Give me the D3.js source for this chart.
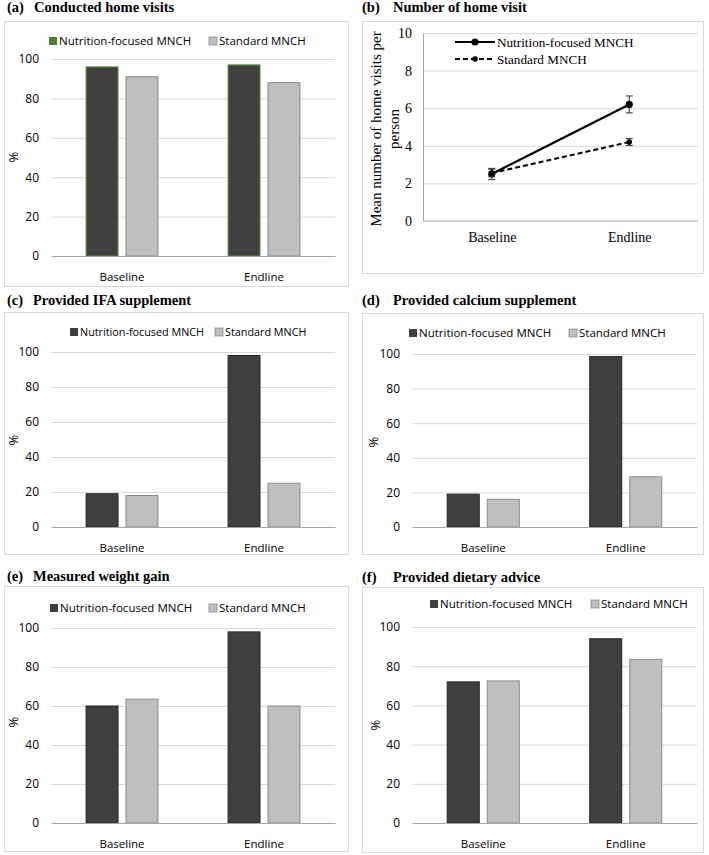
<!DOCTYPE html>
<html>
<head>
<meta charset="utf-8">
<script src="https://cdn.jsdelivr.net/npm/d3@7"></script>
<style>
  body { margin: 0; background: #fff; }
  svg { display: block; }
</style>
</head>
<body>
<div id="chart"></div>
<script>
// data
var phases = ["Baseline", "Endline"];
var groups = ["Nutrition-focused MNCH", "Standard MNCH"];
var pctTicks = [0, 20, 40, 60, 80, 100];
var visitTicks = [0, 2, 4, 6, 8, 10];

var conductedNutrition = [96, 97];
var conductedStandard = [91, 88];
var ifaNutrition = [19, 98];
var ifaStandard = [18, 25];
var calciumNutrition = [19, 98.5];
var calciumStandard = [16, 29];
var weightNutrition = [60, 98];
var weightStandard = [63.5, 60];
var dietNutrition = [72, 94];
var dietStandard = [72.5, 83.5];

var visitsNutrition = [2.5, 6.2];
var visitsNutritionErr = [0.3, 0.45];
var visitsStandard = [2.55, 4.2];
var visitsStandardErr = [0.2, 0.18];

var W = 709, H = 855;
var svg = d3.select("#chart").append("svg")
  .attr("width", W)
  .attr("height", H);

var sansFont = "'Open Sans', sans-serif";
var serifFont = "'Liberation Serif', 'Times New Roman', serif";

function panelTitle(letterX, textX, y, letter, text) {
  svg.append("text")
    .attr("x", letterX).attr("y", y)
    .attr("font-family", serifFont).attr("font-weight", "bold").attr("font-size", 14.5)
    .text(letter);
  svg.append("text")
    .attr("x", textX).attr("y", y)
    .attr("font-family", serifFont).attr("font-weight", "bold").attr("font-size", 14.5)
    .text(text);
}

function frame(b) {
  svg.append("rect")
    .attr("x", b.x + 0.5).attr("y", b.y + 0.5)
    .attr("width", b.w).attr("height", b.h)
    .attr("fill", "none").attr("stroke", "#d9d9d9");
}

// bar panels
function barPanel(p) {
  panelTitle(p.titleX[0], p.titleX[1], p.titleY, p.letter, p.title);
  frame(p.box);

  var x = d3.scaleBand().domain(phases).range([p.x0, p.x1]);
  var xi = d3.scaleBand().domain(groups)
    .range([x.bandwidth() * 0.247, x.bandwidth() * 0.753])
    .paddingInner(0.2);
  var y = d3.scaleLinear().domain([0, 100]).range([p.yBot, p.yTop]);

  var g = svg.append("g");

  // gridlines
  g.append("g")
    .attr("transform", "translate(" + p.x0 + ",0)")
    .call(d3.axisLeft(y).tickValues(pctTicks.slice(1)).tickSize(-(p.x1 - p.x0)).tickFormat(""))
    .call(function(s) {
      s.select(".domain").remove();
      s.selectAll("line").attr("stroke", "#d9d9d9");
    });

  // y tick labels
  g.append("g")
    .attr("transform", "translate(" + p.x0 + ",0)")
    .call(d3.axisLeft(y).tickValues(pctTicks).tickSize(0).tickPadding(12))
    .call(function(s) {
      s.select(".domain").remove();
      s.selectAll("text").attr("font-family", sansFont).attr("font-size", 12).attr("fill", "#000");
    });

  var rows = phases.map(function(ph, i) {
    return { phase: ph, vals: [p.nutrition[i], p.standard[i]] };
  });

  var cat = g.selectAll(".cat").data(rows).enter().append("g")
    .attr("transform", function(d) { return "translate(" + x(d.phase) + ",0)"; });

  cat.selectAll("rect")
    .data(function(d) { return d.vals.map(function(v, k) { return { key: groups[k], v: v, k: k }; }); })
    .enter().append("rect")
    .attr("x", function(d) { return xi(d.key); })
    .attr("y", function(d) { return y(d.v); })
    .attr("width", xi.bandwidth())
    .attr("height", function(d) { return y(0) - y(d.v); })
    .attr("fill", function(d) { return d.k === 0 ? "#404040" : "#bfbfbf"; })
    .attr("stroke", function(d) { return d.k === 0 ? p.darkEdge : "#8c8c8c"; })
    .attr("stroke-width", 1);

  // x axis
  g.append("g")
    .attr("transform", "translate(0," + p.yBot + ")")
    .call(d3.axisBottom(x).tickSize(0).tickPadding(17))
    .call(function(s) {
      s.select(".domain").attr("stroke", "#a6a6a6");
      s.selectAll("text").attr("font-family", sansFont).attr("font-size", 11.5).attr("fill", "#000");
    });

  // y title
  svg.append("text")
    .attr("transform", "translate(" + p.yTitle[0] + "," + p.yTitle[1] + ") rotate(-90)")
    .attr("text-anchor", "middle")
    .attr("dy", "0.35em")
    .attr("font-family", sansFont).attr("font-size", 13)
    .text("%");

  // legend
  var leg = svg.append("g").selectAll("g").data(groups).enter().append("g")
    .attr("transform", function(d, i) { return "translate(" + p.legX[i] + "," + p.legY + ")"; });
  leg.append("rect")
    .attr("x", 0).attr("y", -4).attr("width", 8).attr("height", 8)
    .attr("fill", function(d, i) { return i === 0 ? p.legDark : "#bfbfbf"; })
    .attr("stroke", function(d, i) { return i === 0 ? "none" : "#8c8c8c"; })
    .attr("stroke-width", 0.8);
  leg.append("text")
    .attr("x", 10).attr("dy", "0.35em")
    .attr("font-family", sansFont).attr("font-size", p.legFont || 11.5)
    .text(function(d) { return d; });
}

barPanel({ letter: "(a)", title: "Conducted home visits", titleX: [7, 34], titleY: 12,
  box: { x: 4, y: 21, w: 344, h: 265 }, x0: 51, x1: 335, yTop: 59, yBot: 256,
  nutrition: conductedNutrition, standard: conductedStandard,
  darkEdge: "#5b8c3c", legDark: "#548235",
  yTitle: [13, 157], legX: [49, 209], legY: 41 });

barPanel({ letter: "(c)", title: "Provided IFA supplement", titleX: [7, 33], titleY: 305,
  box: { x: 4, y: 312, w: 344, h: 242 }, x0: 51, x1: 335, yTop: 352, yBot: 527,
  nutrition: ifaNutrition, standard: ifaStandard,
  darkEdge: "#262626", legDark: "#404040", legFont: 10.8,
  yTitle: [13, 440], legX: [70, 215], legY: 332 });

barPanel({ letter: "(d)", title: "Provided calcium supplement", titleX: [362, 393], titleY: 305,
  box: { x: 362, y: 313, w: 341, h: 241 }, x0: 412, x1: 697, yTop: 354, yBot: 527,
  nutrition: calciumNutrition, standard: calciumStandard,
  darkEdge: "#262626", legDark: "#404040",
  yTitle: [373, 442], legX: [409, 569], legY: 333 });

barPanel({ letter: "(e)", title: "Measured weight gain", titleX: [7, 33], titleY: 581,
  box: { x: 4, y: 586, w: 344, h: 265 }, x0: 51, x1: 335, yTop: 628, yBot: 823,
  nutrition: weightNutrition, standard: weightStandard,
  darkEdge: "#262626", legDark: "#404040",
  yTitle: [13, 722], legX: [50, 209], legY: 608 });

barPanel({ letter: "(f)", title: "Provided dietary advice", titleX: [362, 393], titleY: 582,
  box: { x: 362, y: 587, w: 341, h: 265 }, x0: 412, x1: 697, yTop: 627, yBot: 823,
  nutrition: dietNutrition, standard: dietStandard,
  darkEdge: "#262626", legDark: "#404040",
  yTitle: [375, 725], legX: [430, 591], legY: 604 });

// panel (b): line chart with error bars
(function() {
  var x0 = 423, x1 = 698, yTop = 33, yBot = 221;
  panelTitle(362, 393, 12, "(b)", "Number of home visit");
  frame({ x: 362, y: 21, w: 341, h: 252 });

  var x = d3.scalePoint().domain(phases).range([x0, x1]).padding(0.5);
  var y = d3.scaleLinear().domain([0, 10]).range([yBot, yTop]);
  var g = svg.append("g");

  g.append("g")
    .attr("transform", "translate(" + x0 + ",0)")
    .call(d3.axisLeft(y).tickValues(visitTicks.slice(1)).tickSize(-(x1 - x0)).tickFormat(""))
    .call(function(s) {
      s.select(".domain").remove();
      s.selectAll("line").attr("stroke", "#d9d9d9");
    });

  g.append("g")
    .attr("transform", "translate(" + x0 + ",0)")
    .call(d3.axisLeft(y).tickValues(visitTicks).tickSize(0).tickPadding(11))
    .call(function(s) {
      s.select(".domain").attr("stroke", "#a6a6a6");
      s.selectAll("text").attr("font-family", serifFont).attr("font-size", 14).attr("fill", "#000");
    });

  g.append("g")
    .attr("transform", "translate(0," + yBot + ")")
    .call(d3.axisBottom(x).tickSize(0).tickPadding(11))
    .call(function(s) {
      s.select(".domain").attr("stroke", "#a6a6a6").attr("d", "M" + x0 + ",0H" + x1);
      s.selectAll("text").attr("font-family", serifFont).attr("font-size", 14).attr("fill", "#000");
    });

  var series = [
    { name: groups[0], vals: visitsNutrition, err: visitsNutritionErr, dash: null, r: 3.6, w: 2.2 },
    { name: groups[1], vals: visitsStandard, err: visitsStandardErr, dash: "5,3", r: 2.8, w: 2 }
  ];

  var line = d3.line()
    .x(function(d) { return x(d.phase); })
    .y(function(d) { return y(d.v); });

  series.forEach(function(s) {
    var pts = phases.map(function(ph, i) { return { phase: ph, v: s.vals[i], e: s.err[i] }; });

    var eb = g.append("g").selectAll("g").data(pts).enter().append("g").attr("stroke", "#333").attr("stroke-width", 1);
    eb.append("line")
      .attr("x1", function(d) { return x(d.phase); }).attr("x2", function(d) { return x(d.phase); })
      .attr("y1", function(d) { return y(d.v + d.e); }).attr("y2", function(d) { return y(d.v - d.e); });
    eb.append("line")
      .attr("x1", function(d) { return x(d.phase) - 3.5; }).attr("x2", function(d) { return x(d.phase) + 3.5; })
      .attr("y1", function(d) { return y(d.v + d.e); }).attr("y2", function(d) { return y(d.v + d.e); });
    eb.append("line")
      .attr("x1", function(d) { return x(d.phase) - 3.5; }).attr("x2", function(d) { return x(d.phase) + 3.5; })
      .attr("y1", function(d) { return y(d.v - d.e); }).attr("y2", function(d) { return y(d.v - d.e); });

    g.append("path").datum(pts)
      .attr("d", line)
      .attr("fill", "none")
      .attr("stroke", "#000")
      .attr("stroke-width", s.w)
      .attr("stroke-dasharray", s.dash);

    g.selectAll(null).data(pts).enter().append("circle")
      .attr("cx", function(d) { return x(d.phase); })
      .attr("cy", function(d) { return y(d.v); })
      .attr("r", s.r)
      .attr("fill", "#000");
  });

  // legend
  var leg = g.append("g").selectAll("g").data(series).enter().append("g")
    .attr("transform", function(d, i) { return "translate(455," + (42 + i * 17) + ")"; });
  leg.append("line")
    .attr("x1", 0).attr("x2", 40)
    .attr("stroke", "#000")
    .attr("stroke-width", function(d) { return d.w; })
    .attr("stroke-dasharray", function(d) { return d.dash; });
  leg.append("circle").attr("cx", 20).attr("r", function(d) { return d.r; }).attr("fill", "#000");
  leg.append("text")
    .attr("x", 42).attr("dy", "0.35em")
    .attr("font-family", serifFont).attr("font-size", 13.2)
    .text(function(d) { return d.name; });

  // y title, two lines
  var yt = svg.append("text")
    .attr("transform", "translate(376,129) rotate(-90)")
    .attr("text-anchor", "middle")
    .attr("font-family", serifFont).attr("font-size", 15);
  yt.append("tspan").attr("x", 0).attr("dy", "0.35em").text("Mean number of home visits per");
  yt.append("tspan").attr("x", 0).attr("dy", "1.15em").text("person");
})();
</script>
</body>
</html>
